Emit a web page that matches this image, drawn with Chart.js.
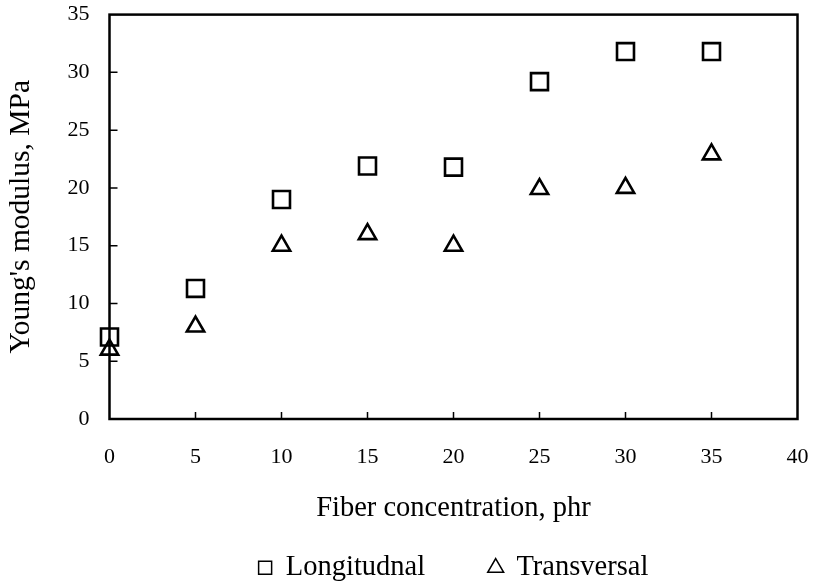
<!DOCTYPE html>
<html>
<head>
<meta charset="utf-8">
<script src="https://cdn.jsdelivr.net/npm/chart.js@4"></script>
<style>
  html, body { margin: 0; padding: 0; background: #fff; }
  #wrap { width: 815px; height: 585px; }
</style>
</head>
<body>
<div id="wrap"><canvas id="chart" width="815" height="585"></canvas></div>
<script>
(function(){
  'use strict';

  const fiber = [0, 5, 10, 15, 20, 25, 30, 35];
  const longitudinal = [7.1, 11.3, 19.0, 21.9, 21.8, 29.2, 31.8, 31.8];
  const transversal = [6.0, 8.0, 15.0, 16.0, 15.0, 19.9, 20.0, 22.9];
  const xTicks = [0, 5, 10, 15, 20, 25, 30, 35, 40];
  const yTicks = [0, 5, 10, 15, 20, 25, 30, 35];

  const FONT = '"Liberation Serif", "Times New Roman", serif';

  function toPoints(ys) {
    return fiber.map((x, i) => ({ x: x, y: ys[i] }));
  }

  // box round the plot area plus short inward tick marks
  const frame = {
    id: 'frame',
    afterDatasetsDraw(chart) {
      const { ctx, chartArea: a, scales } = chart;
      ctx.save();
      ctx.strokeStyle = '#000';
      ctx.lineWidth = 1.5;
      ctx.beginPath();
      xTicks.slice(1, -1).forEach(v => {
        const px = scales.x.getPixelForValue(v);
        ctx.moveTo(px, a.bottom);
        ctx.lineTo(px, a.bottom - 7);
      });
      yTicks.slice(1, -1).forEach(v => {
        const py = scales.y.getPixelForValue(v);
        ctx.moveTo(a.left, py);
        ctx.lineTo(a.left + 8, py);
      });
      ctx.stroke();
      ctx.lineWidth = 2.5;
      ctx.strokeRect(a.left, a.top, a.right - a.left, a.bottom - a.top);
      ctx.restore();
    }
  };

  const ctx = document.getElementById('chart').getContext('2d');
  new Chart(ctx, {
    type: 'scatter',
    data: {
      datasets: [{
        label: 'Longitudnal',
        data: toPoints(longitudinal),
        pointStyle: 'rect',
        pointRadius: 12,
        pointHoverRadius: 12,
        borderColor: '#000',
        backgroundColor: 'rgba(0,0,0,0)',
        pointBorderWidth: 2.6,
        clip: false
      }, {
        label: 'Transversal',
        data: toPoints(transversal),
        pointStyle: 'triangle',
        pointRadius: 10,
        pointHoverRadius: 10,
        borderColor: '#000',
        backgroundColor: 'rgba(0,0,0,0)',
        pointBorderWidth: 2.6,
        clip: false
      }]
    },
    options: {
      responsive: false,
      animation: false,
      layout: { padding: { top: 14, right: 17.5, left: 0, bottom: -7 } },
      plugins: {
        tooltip: { enabled: false },
        legend: {
          position: 'bottom',
          fullSize: false,
          labels: {
            usePointStyle: true,
            boxWidth: 13,
            boxHeight: 13,
            padding: 64,
            color: '#000',
            font: { family: FONT, size: 28.5 },
            generateLabels(chart) {
              const items = Chart.defaults.plugins.legend.labels.generateLabels(chart);
              items.forEach(it => { it.lineWidth = 1.5; });
              return items;
            }
          }
        }
      },
      scales: {
        x: {
          type: 'linear',
          min: 0,
          max: 40,
          afterBuildTicks(scale) { scale.ticks = xTicks.map(v => ({ value: v })); },
          grid: { display: false, drawTicks: false },
          border: { display: false },
          ticks: { color: '#000', padding: 25, font: { family: FONT, size: 22 } },
          title: {
            display: true,
            text: 'Fiber concentration, phr',
            color: '#000',
            padding: { top: 4, bottom: -36.5 },
            font: { family: FONT, size: 28.5 }
          },
          afterFit(scale) {
            scale.height = 70.5;
            scale.paddingLeft = 0;
            scale.paddingRight = 0;
          }
        },
        y: {
          type: 'linear',
          min: 0,
          max: 35,
          afterBuildTicks(scale) { scale.ticks = yTicks.map(v => ({ value: v })); },
          grid: { display: false, drawTicks: false },
          border: { display: false },
          ticks: { color: '#000', padding: 20, font: { family: FONT, size: 22 } },
          title: {
            display: true,
            text: "Young's modulus, MPa",
            color: '#000',
            font: { family: FONT, size: 29.5 }
          },
          afterFit(scale) {
            scale.width = 109.5;
            scale.paddingTop = 0;
            scale.paddingBottom = 0;
          }
        }
      }
    },
    plugins: [frame]
  });
})();
</script>
</body>
</html>
